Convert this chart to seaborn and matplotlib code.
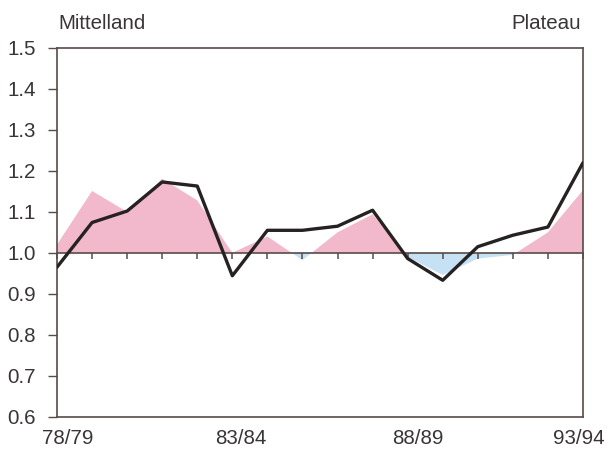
import numpy as np
import pandas as pd
import matplotlib
matplotlib.use("Agg")
import matplotlib.pyplot as plt
import matplotlib.transforms as mtransforms
import seaborn as sns

# ---- data ----
seasons = ["78/79", "79/80", "80/81", "81/82", "82/83", "83/84", "84/85", "85/86",
           "86/87", "87/88", "88/89", "89/90", "90/91", "91/92", "92/93", "93/94"]
line_values = [0.965, 1.074, 1.102, 1.173, 1.163, 0.944, 1.055, 1.055,
               1.065, 1.104, 0.986, 0.933, 1.015, 1.043, 1.063, 1.220]
area_values = [1.020, 1.151, 1.100, 1.181, 1.128, 1.000, 1.040, 0.982,
               1.050, 1.094, 0.990, 0.946, 0.986, 0.995, 1.050, 1.153]
tick_labels = ["78/79", "83/84", "88/89", "93/94"]
y_ticks = [0.6, 0.7, 0.8, 0.9, 1.0, 1.1, 1.2, 1.3, 1.4, 1.5]
baseline = 1.0
title_left = "Mittelland"
title_right = "Plateau"

# ---- style ----
sns.set_theme(style="white")
plt.rcParams['font.family'] = ['Liberation Sans', 'DejaVu Sans']
text_color = "#3a3535"
frame_color = "#574a48"
pink = "#F2B8CC"
blue = "#C6E0F4"
line_color = "#272222"
fs = 14.8

df = pd.DataFrame({"pos": np.arange(len(seasons)), "season": seasons,
                   "line": line_values, "area": area_values})

fig = plt.figure(figsize=(6.11, 4.50), dpi=100)
ax = fig.add_axes([57/611, 1 - 416.7/450, (583 - 57)/611, (416.7 - 48)/450])

x = df["pos"].to_numpy()
a = df["area"].to_numpy()
ax.fill_between(x, baseline, a, where=a >= baseline, interpolate=True,
                color=pink, linewidth=0, zorder=1)
ax.fill_between(x, baseline, a, where=a <= baseline, interpolate=True,
                color=blue, linewidth=0, zorder=1)

sns.lineplot(data=df, x="pos", y="line", ax=ax, color=line_color,
             linewidth=2.4, zorder=4)

ymin, ymax = y_ticks[0], y_ticks[-1]
ax.set_xlim(x[0], x[-1])
ax.set_ylim(ymin, ymax)
ax.set_xlabel("")
ax.set_ylabel("")

# baseline axis with small downward ticks
sec = ax.secondary_xaxis((baseline - ymin) / (ymax - ymin))
sec.set_xticks(x)
sec.tick_params(axis="x", direction="out", length=4, width=1.1,
                color=frame_color, labelbottom=False, labeltop=False)
sec.spines["bottom"].set_color(frame_color)
sec.spines["bottom"].set_linewidth(1.2)
sec.set_zorder(3)

# y axis
ax.set_yticks(y_ticks)
ax.set_yticklabels([f"{v:.1f}" for v in y_ticks])
ax.tick_params(axis="y", direction="out", length=6.3, width=1.0,
               color=frame_color, pad=9, labelsize=fs, labelcolor=text_color, left=True)

# x axis labels (no ticks on frame)
label_pos = [seasons.index(t) for t in tick_labels]
ax.set_xticks(label_pos)
ax.set_xticklabels(tick_labels)
ax.tick_params(axis="x", length=0, pad=9, labelsize=fs, labelcolor=text_color)
offsets_px = [11, 8, 10, -4]
for lab, dx in zip(ax.get_xticklabels(), offsets_px):
    lab.set_transform(lab.get_transform() +
                      mtransforms.ScaledTranslation(dx / 100, 0, fig.dpi_scale_trans))

for s in ax.spines.values():
    s.set_color(frame_color)
    s.set_linewidth(1.2)

fig.text(58/611, 1 - 29/450, title_left, ha="left", va="baseline",
         fontsize=fs, color=text_color)
fig.text(581/611, 1 - 29/450, title_right, ha="right", va="baseline",
         fontsize=fs, color=text_color)

fig.savefig("out.png", dpi=100, facecolor="white")
